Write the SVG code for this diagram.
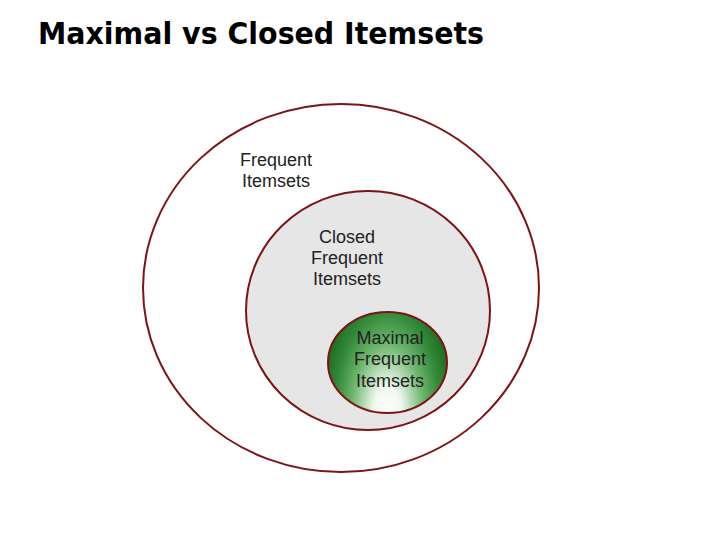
<svg xmlns="http://www.w3.org/2000/svg" width="720" height="540" viewBox="0 0 720 540">
<style>
.ring{stroke:#7b1515;stroke-width:2}
.lbl{font-family:"Liberation Sans",Arial,sans-serif;font-size:18px;fill:#222;text-anchor:middle}
</style>
<defs>
<radialGradient id="g" cx="0.5" cy="1" r="1" gradientTransform="translate(0.5,1) scale(0.55,1.25) translate(-0.5,-1)">
<stop offset="0" stop-color="#ffffff"/>
<stop offset="0.22" stop-color="#eef8ee"/>
<stop offset="0.55" stop-color="#6db56d"/>
<stop offset="0.8" stop-color="#34893a"/>
<stop offset="1" stop-color="#1f6d22"/>
</radialGradient>
</defs>
<rect width="720" height="540" fill="#fff"/>
<text x="38" y="44" font-family="DejaVu Sans,Verdana,sans-serif" font-weight="bold" font-size="30" textLength="446" lengthAdjust="spacingAndGlyphs" fill="#000">Maximal vs Closed Itemsets</text>
<g id="frequent">
<ellipse class="ring" cx="341" cy="288" rx="198" ry="184" fill="#fff"/>
<text class="lbl" x="276" y="166">Frequent</text>
<text class="lbl" x="276" y="187">Itemsets</text>
</g>
<g id="closed">
<ellipse class="ring" cx="368" cy="310.5" rx="122" ry="119.5" fill="#e6e6e6"/>
<text class="lbl" x="347" y="243">Closed</text>
<text class="lbl" x="347" y="264">Frequent</text>
<text class="lbl" x="347" y="285">Itemsets</text>
</g>
<g id="maximal">
<ellipse class="ring" cx="387.5" cy="362.5" rx="59.5" ry="50.5" fill="url(#g)"/>
<text class="lbl" x="390" y="344">Maximal</text>
<text class="lbl" x="390" y="365">Frequent</text>
<text class="lbl" x="390" y="387">Itemsets</text>
</g>
<g id="connectors"/>
</svg>
